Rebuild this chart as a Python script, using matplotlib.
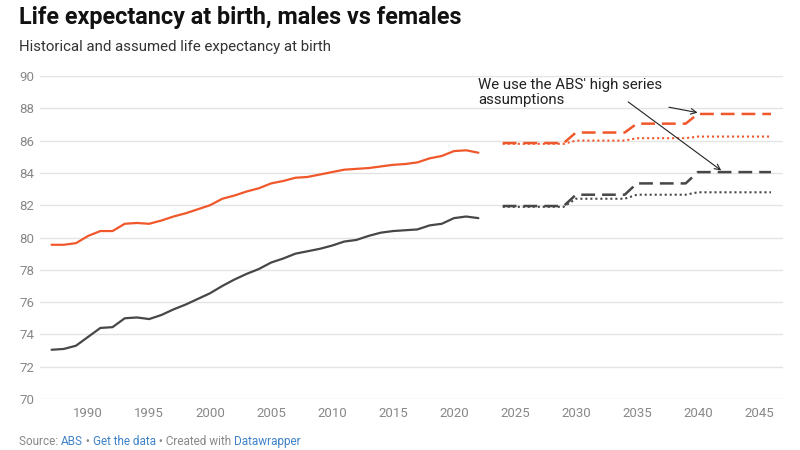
import matplotlib
matplotlib.use("Agg")
import matplotlib.pyplot as plt

plt.rcParams["font.family"] = ["Roboto", "DejaVu Sans"]

# historical data
years_hist = list(range(1987, 2023))
female_hist = [79.55, 79.55, 79.65, 80.1, 80.4, 80.4, 80.85, 80.9, 80.85, 81.05,
               81.3, 81.5, 81.75, 82.0, 82.4, 82.6, 82.85, 83.05, 83.35, 83.5,
               83.7, 83.75, 83.9, 84.05, 84.2, 84.25, 84.3, 84.4, 84.5, 84.55,
               84.65, 84.9, 85.05, 85.35, 85.4, 85.25]
male_hist = [73.05, 73.1, 73.3, 73.85, 74.4, 74.45, 75.0, 75.05, 74.95, 75.2,
             75.55, 75.85, 76.2, 76.55, 77.0, 77.4, 77.75, 78.05, 78.45, 78.7,
             79.0, 79.15, 79.3, 79.5, 79.75, 79.85, 80.1, 80.3, 80.4, 80.45,
             80.5, 80.75, 80.85, 81.2, 81.3, 81.2]

# assumptions (high = dashed, medium = dotted)
years_proj = list(range(2024, 2047))
female_high = [85.85] * 6 + [86.5] * 5 + [87.05] * 5 + [87.65] * 7
female_med = [85.8] * 6 + [86.0] * 5 + [86.15] * 5 + [86.25] * 7
male_high = [81.95] * 6 + [82.65] * 5 + [83.35] * 5 + [84.05] * 7
male_med = [81.9] * 6 + [82.4] * 5 + [82.65] * 5 + [82.8] * 7

ORANGE = "#f0582b"
GREY = "#474747"

fig = plt.figure(figsize=(8, 4.5), dpi=100)
ax = fig.add_axes([0.05, 0.1133, 0.929, 0.7178])

ax.plot(years_hist, female_hist, color=ORANGE, lw=1.6, solid_capstyle="round")
ax.plot(years_hist, male_hist, color=GREY, lw=1.6, solid_capstyle="round")

ax.plot(years_proj, female_high, color=ORANGE, lw=1.8, dashes=(5.5, 2.8))
ax.plot(years_proj, female_med, color=ORANGE, lw=1.5, dashes=(1, 1.4))
ax.plot(years_proj, male_high, color=GREY, lw=1.8, dashes=(5.5, 2.8))
ax.plot(years_proj, male_med, color=GREY, lw=1.5, dashes=(1, 1.4))

ax.set_xlim(1986.05, 2047)
ax.set_ylim(70, 90)
ax.set_yticks(range(70, 91, 2))
ax.set_xticks(range(1990, 2046, 5))
ax.grid(axis="y", color="#e4e4e4", lw=1)
ax.set_axisbelow(True)
for s in ax.spines.values():
    s.set_visible(False)
ax.tick_params(length=0, colors="#888888", labelsize=9.5)
ax.tick_params(axis="x", pad=6)
ax.tick_params(axis="y", pad=4)

# annotation
ax.text(2022.0, 89.9, "We use the ABS' high series\nassumptions", fontsize=10.8,
        color="#222222", va="top", ha="left", linespacing=1.15)
ax.annotate("", xy=(2040.2, 87.7), xytext=(2037.4, 88.1),
            arrowprops=dict(arrowstyle="->", color="#222222", lw=0.8))
ax.annotate("", xy=(2042.1, 84.05), xytext=(2034.1, 88.5),
            arrowprops=dict(arrowstyle="->", color="#222222", lw=0.8))

fig.text(0.024, 0.962, "Life expectancy at birth, males vs females",
         fontsize=16.8, fontweight="bold", color="#111111", va="center")
fig.text(0.024, 0.895, "Historical and assumed life expectancy at birth",
         fontsize=10.8, color="#333333", va="center")

# footer at the bottom edge
pieces = [("Source: ", "#888888"), ("ABS", "#3f82c8"), (" • ", "#888888"),
          ("Get the data", "#3f82c8"), (" • Created with ", "#888888"),
          ("Datawrapper", "#3f82c8")]
renderer = fig.canvas.get_renderer()
x = 0.024
for txt, col in pieces:
    t = fig.text(x, 0.012, txt, fontsize=8.5, color=col, va="baseline")
    w = t.get_window_extent(renderer).width
    x += w / fig.bbox.width

fig.savefig("out.png", dpi=100)
